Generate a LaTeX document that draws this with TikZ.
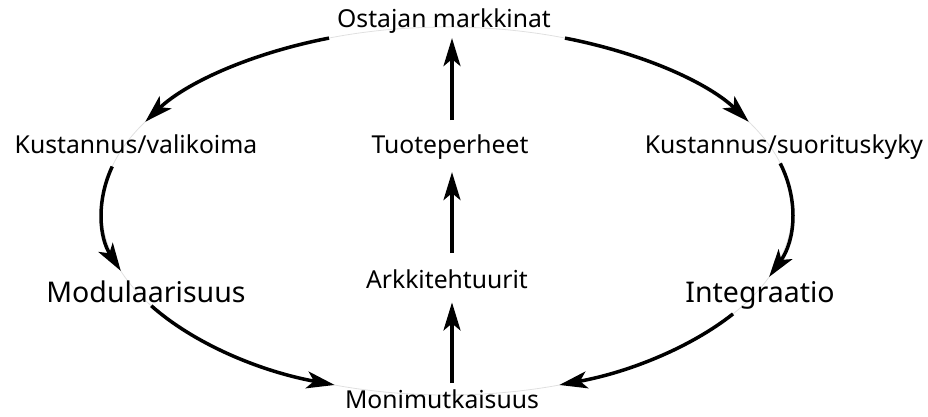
\documentclass[tikz,border=0pt]{standalone}
\usepackage{fontspec}
\setmainfont{Noto Sans}
\usetikzlibrary{arrows.meta}
\begin{document}
\begin{tikzpicture}[x=1pt,y=-1pt,
  lbl/.style={anchor=base,inner sep=3pt,font=\fontsize{24.7}{28}\selectfont},
  big/.style={anchor=base,inner sep=3pt,font=\fontsize{28.5}{34}\selectfont},
  arr/.style={line width=3.5pt,-{Stealth[length=28pt,width=17pt,inset=7pt]}},
  guide/.style={draw=black!12,line width=0.8pt}]
\useasboundingbox (0,0) rectangle (928,417);
\coordinate (c) at (447,211);
\coordinate (ax) at (452,0);
\draw[guide] (c) ellipse [x radius=345, y radius=184];
\node[lbl] (om) at (444,28) {Ostajan markkinat};
\node[lbl] (kv) at (136,153) {Kustannus/valikoima};
\node[lbl] (tp) at (450,153) {Tuoteperheet};
\node[lbl] (ks) at (784,153) {Kustannus/suorituskyky};
\node[big] (mod) at (146,302) {Modulaarisuus};
\node[lbl] (ark) at (447,288) {Arkkitehtuurit};
\node[big] (int) at (760,302) {Integraatio};
\node[lbl] (mon) at (442,408) {Monimutkaisuus};
% ellipse arcs
\draw[arr] (c) ++(-110:345 and 184) arc[start angle=-110,end angle=-151,x radius=345,y radius=184];
\draw[arr] (c) ++(-166:345 and 184) arc[start angle=-166,end angle=-199,x radius=345,y radius=184];
\draw[arr] (c) ++(-211:345 and 184) arc[start angle=-211,end angle=-251,x radius=345,y radius=184];
\draw[arr] (c) ++(-326:345 and 184) arc[start angle=-326,end angle=-289,x radius=345,y radius=184];
\draw[arr] (c) ++(-15:345 and 184) arc[start angle=-15,end angle=21,x radius=345,y radius=184];
\draw[arr] (c) ++(-70:345 and 184) arc[start angle=-70,end angle=-29,x radius=345,y radius=184];
% vertical arrows
\draw[arr,shorten <=11pt,shorten >=1pt] (tp.north -| ax) -- (om.south -| ax);
\draw[arr,shorten <=13pt,shorten >=10pt] (ark.north -| ax) -- (tp.south -| ax);
\draw[arr,shorten <=3pt,shorten >=11pt] (mon.north -| ax) -- (ark.south -| ax);
\end{tikzpicture}
\end{document}
